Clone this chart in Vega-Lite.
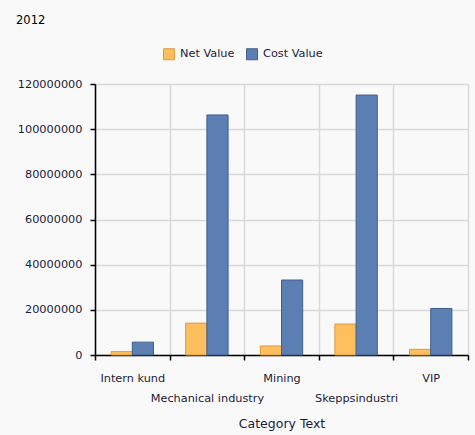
{
  "$schema": "https://vega.github.io/schema/vega-lite/v6.json",
  "autosize": {"type": "none"},
  "width": 373,
  "height": 271,
  "padding": {"left": 95, "top": 84, "right": 7, "bottom": 80},
  "background": "#f9f9f9",
  "title": {
    "text": "2012",
    "anchor": "start",
    "frame": "group",
    "dx": -79,
    "offset": 22,
    "font": "DejaVu Sans",
    "fontSize": 11.5,
    "fontWeight": "normal",
    "color": "#000000"
  },
  "data": {
    "values": [
      {"category": "Intern kund", "series": "Net Value", "value": 1500000},
      {"category": "Intern kund", "series": "Cost Value", "value": 5700000},
      {"category": "Mechanical industry", "series": "Net Value", "value": 14100000},
      {"category": "Mechanical industry", "series": "Cost Value", "value": 106300000},
      {"category": "Mining", "series": "Net Value", "value": 4000000},
      {"category": "Mining", "series": "Cost Value", "value": 33200000},
      {"category": "Skeppsindustri", "series": "Net Value", "value": 13700000},
      {"category": "Skeppsindustri", "series": "Cost Value", "value": 115100000},
      {"category": "VIP", "series": "Net Value", "value": 2500000},
      {"category": "VIP", "series": "Cost Value", "value": 20600000}
    ]
  },
  "mark": {"type": "bar", "strokeWidth": 1},
  "encoding": {
    "x": {
      "field": "category",
      "type": "nominal",
      "sort": null,
      "title": "Category Text",
      "scale": {"paddingInner": 0, "paddingOuter": 0},
      "axis": {
        "labelAngle": 0,
        "tickBand": "extent",
        "grid": true,
        "gridColor": "#d9d9d9",
        "gridWidth": 1.5,
        "domainColor": "#000000",
        "tickColor": "#000000",
        "tickSize": 5,
        "labelPadding": 12,
        "labelBaseline": "top",
        "labelLineHeight": 20,
        "labelExpr": "indexof(['Mechanical industry','Skeppsindustri'], datum.value) >= 0 ? ['', datum.value] : datum.value",
        "titlePadding": 14,
        "titleFontSize": 12.5
      }
    },
    "xOffset": {
      "field": "series",
      "type": "nominal",
      "sort": ["Net Value", "Cost Value"],
      "scale": {"paddingInner": 0, "paddingOuter": 0.76}
    },
    "y": {
      "field": "value",
      "type": "quantitative",
      "title": null,
      "scale": {"domain": [0, 120000000], "nice": false},
      "axis": {
        "values": [0, 20000000, 40000000, 60000000, 80000000, 100000000, 120000000],
        "format": "d",
        "grid": true,
        "gridColor": "#d9d9d9",
        "gridWidth": 1.5,
        "domainColor": "#000000",
        "tickColor": "#000000",
        "tickSize": 5,
        "labelPadding": 8
      }
    },
    "color": {
      "field": "series",
      "type": "nominal",
      "sort": ["Net Value", "Cost Value"],
      "scale": {"domain": ["Net Value", "Cost Value"], "range": ["#ffbf5e", "#5b7fb2"]},
      "legend": {
        "title": null,
        "orient": "none",
        "direction": "horizontal",
        "legendX": 68,
        "legendY": -36,
        "symbolType": "square",
        "symbolSize": 121,
        "symbolStrokeWidth": 1,
        "columnPadding": 9,
        "labelOffset": 5
      }
    },
    "stroke": {
      "field": "series",
      "type": "nominal",
      "scale": {"domain": ["Net Value", "Cost Value"], "range": ["#d99a40", "#3f5f8f"]},
      "legend": null
    }
  },
  "config": {
    "view": {"stroke": null, "fill": "#f9f9f9"},
    "font": "DejaVu Sans",
    "axis": {
      "labelFont": "DejaVu Sans",
      "labelFontSize": 11.3,
      "labelColor": "#1c1c3a",
      "titleFont": "DejaVu Sans",
      "titleFontSize": 11,
      "titleFontWeight": "normal",
      "titleColor": "#1c1c3a",
      "domainWidth": 1.5,
      "tickWidth": 1.5
    },
    "legend": {
      "labelFont": "DejaVu Sans",
      "labelFontSize": 11.3,
      "labelColor": "#1c1c3a"
    }
  }
}
